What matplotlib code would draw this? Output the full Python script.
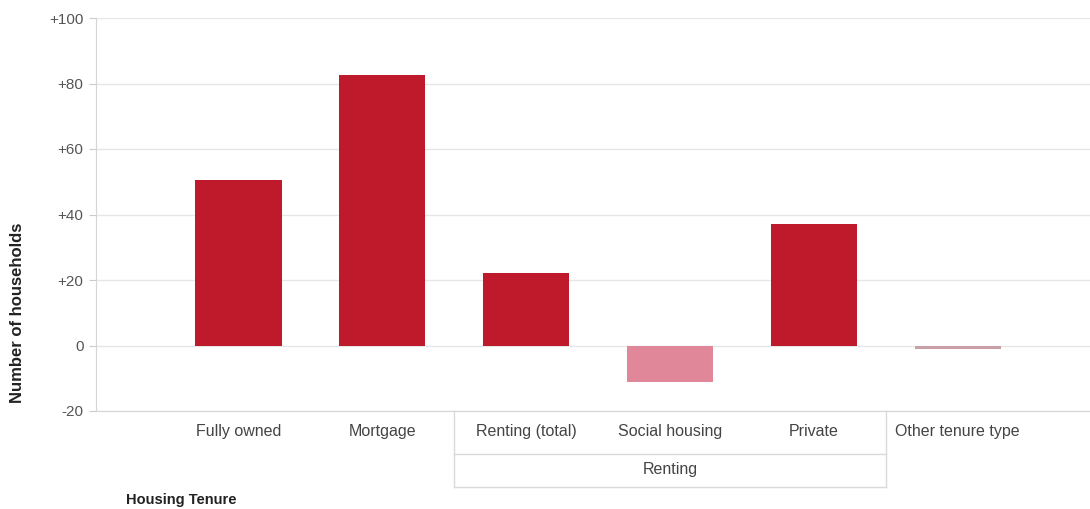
import matplotlib.pyplot as plt
from matplotlib.transforms import blended_transform_factory

categories = ["Fully owned", "Mortgage", "Renting (total)", "Social housing", "Private", "Other tenure type"]
values = [50.5, 82.5, 22, -11, 37, -1]
bar_colors = ["#BE1A2C", "#BE1A2C", "#BE1A2C", "#E08899", "#BE1A2C", "#C9A0A8"]
group_label = "Renting"
group_span = (1.5, 4.5)
y_ticks = [-20, 0, 20, 40, 60, 80, 100]
tick_labels = ["-20", "0", "+20", "+40", "+60", "+80", "+100"]

plt.rcParams['font.family'] = ['Liberation Sans', 'DejaVu Sans']

W, H = 1090, 509
fig = plt.figure(figsize=(W / 100, H / 100), dpi=100)
ax = fig.add_axes([96 / W, 1 - 411 / H, 1 - 96 / W, (411 - 18) / H])

x = list(range(len(categories)))
ax.bar(x, values, width=0.6, color=bar_colors, zorder=3)

ax.set_ylim(-20, 100)
ax.set_xlim(-0.99, 5.92)
ax.set_yticks(y_ticks)
ax.set_yticklabels(tick_labels, fontsize=11, color="#555555")
ax.tick_params(axis='y', length=5, color="#cccccc", pad=4)
ax.set_xticks([])
ax.grid(axis='y', color="#e6e6e6", linewidth=1, zorder=0)
for s in ["top", "right"]:
    ax.spines[s].set_visible(False)
ax.spines["left"].set_color("#d5d5d5")
ax.spines["bottom"].set_color("#d5d5d5")

# category label rows
tr = blended_transform_factory(ax.transData, ax.transAxes)
for xi, lab in zip(x, categories):
    ax.text(xi, -0.053, lab, transform=tr, ha='center', va='center', fontsize=11.5, color="#444444")

g0, g1 = group_span
line_kw = dict(transform=tr, color="#d9d9d9", linewidth=1, clip_on=False)
ax.plot([g0, g0], [0, -0.193], **line_kw)
ax.plot([g1, g1], [0, -0.193], **line_kw)
ax.plot([g0, g1], [-0.109, -0.109], **line_kw)
ax.plot([g0, g1], [-0.193, -0.193], **line_kw)
ax.text((g0 + g1) / 2, -0.150, group_label, transform=tr, ha='center', va='center', fontsize=11.5, color="#444444")

fig.text(18 / W, 1 - 313 / H, "Number of households", rotation=90, ha='center', va='center',
         fontsize=12, fontweight='bold', color="#222222")
fig.text(126 / W, 1 - 500 / H, "Housing Tenure", ha='left', va='center',
         fontsize=10.5, fontweight='bold', color="#222222")

fig.savefig("out.png", dpi=100)
